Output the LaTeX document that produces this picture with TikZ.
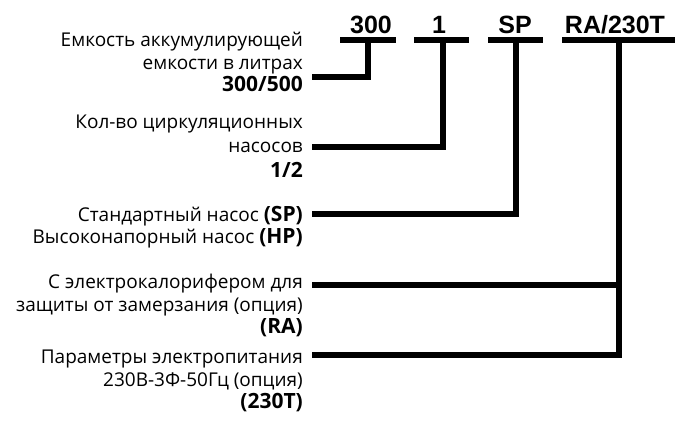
\documentclass[tikz,border=0pt]{standalone}
\usepackage{fontspec}
\setmainfont{Open Sans}
\newfontfamily\codefamily{Liberation Sans}
\newcommand{\keytxt}[1]{{\bfseries\fontsize{21}{22.5}\selectfont #1}}
\usetikzlibrary{calc}

\begin{document}
\begin{tikzpicture}[x=1pt,y=-1pt]

\tikzset{
  code/.style={font=\codefamily\bfseries\fontsize{25}{25}\selectfont, anchor=base, inner sep=0pt},
  desc/.style={font=\fontsize{19}{22.5}\selectfont, align=right, anchor=north east, inner sep=0pt},
  wire/.style={line width=6pt, line join=miter},
}

% Page frame
\useasboundingbox (0,0) rectangle (677,423);

% Code letters on top
\node[code] (c300) at (371,33) {300};
\node[code] (c1)   at (439,33) {1};
\node[code] (cSP)  at (515,33) {SP};
\node[code] (cRA)  at (615,33) {RA/230T};

% Bars under the codes
\coordinate (b300w) at (340,40);
\coordinate (b300e) at (396,40);
\coordinate (b1w) at (414,40);
\coordinate (b1e) at (469,40);
\coordinate (bSPw) at (488,40);
\coordinate (bSPe) at (543,40);
\coordinate (bRAw) at (562,40);
\coordinate (bRAe) at (675,40);
\draw[wire] (b300w) -- (b300e);
\draw[wire] (b1w) -- (b1e);
\draw[wire] (bSPw) -- (bSPe);
\draw[wire] (bRAw) -- (bRAe);

% Drop points on the bars
\coordinate (j300) at (368,40);
\coordinate (j1)   at (443,40);
\coordinate (jSP)  at (516,40);
\coordinate (jRA)  at (619,40);

% Descriptions
\node[desc] (volume) at (303,32)
  {Емкость аккумулирующей\\емкости в литрах\\\keytxt{300/500}};
\node[desc] (pumps) at (303,115)
  {Кол-во циркуляционных\\[1pt]насосов\\[3pt]\keytxt{1/2}};
\node[desc] (ptype) at (303,206)
  {Стандартный насос \keytxt{(SP)}\\Высоконапорный насос \keytxt{(HP)}};
\node[desc] (heater) at (303,274)
  {С электрокалорифером для\\защиты от замерзания (опция)\\\keytxt{(RA)}};
\node[desc] (power) at (303,350)
  {Параметры электропитания\\230В-3Ф-50Гц (опция)\\\keytxt{(230T)}};

% Leader starts
\coordinate (l300) at (312,77);
\coordinate (l1)   at (312,147);
\coordinate (lSP)  at (312,214);
\coordinate (lRA)  at (312,285);
\coordinate (lPW)  at (312,355);

% Leaders
\draw[wire] (l300) -| (j300);
\draw[wire] (l1) -| (j1);
\draw[wire] (lSP) -| (jSP);
\draw[wire] (lPW) -| (jRA);
\draw[wire] (lRA) -- (lRA -| jRA);

\end{tikzpicture}
\end{document}
